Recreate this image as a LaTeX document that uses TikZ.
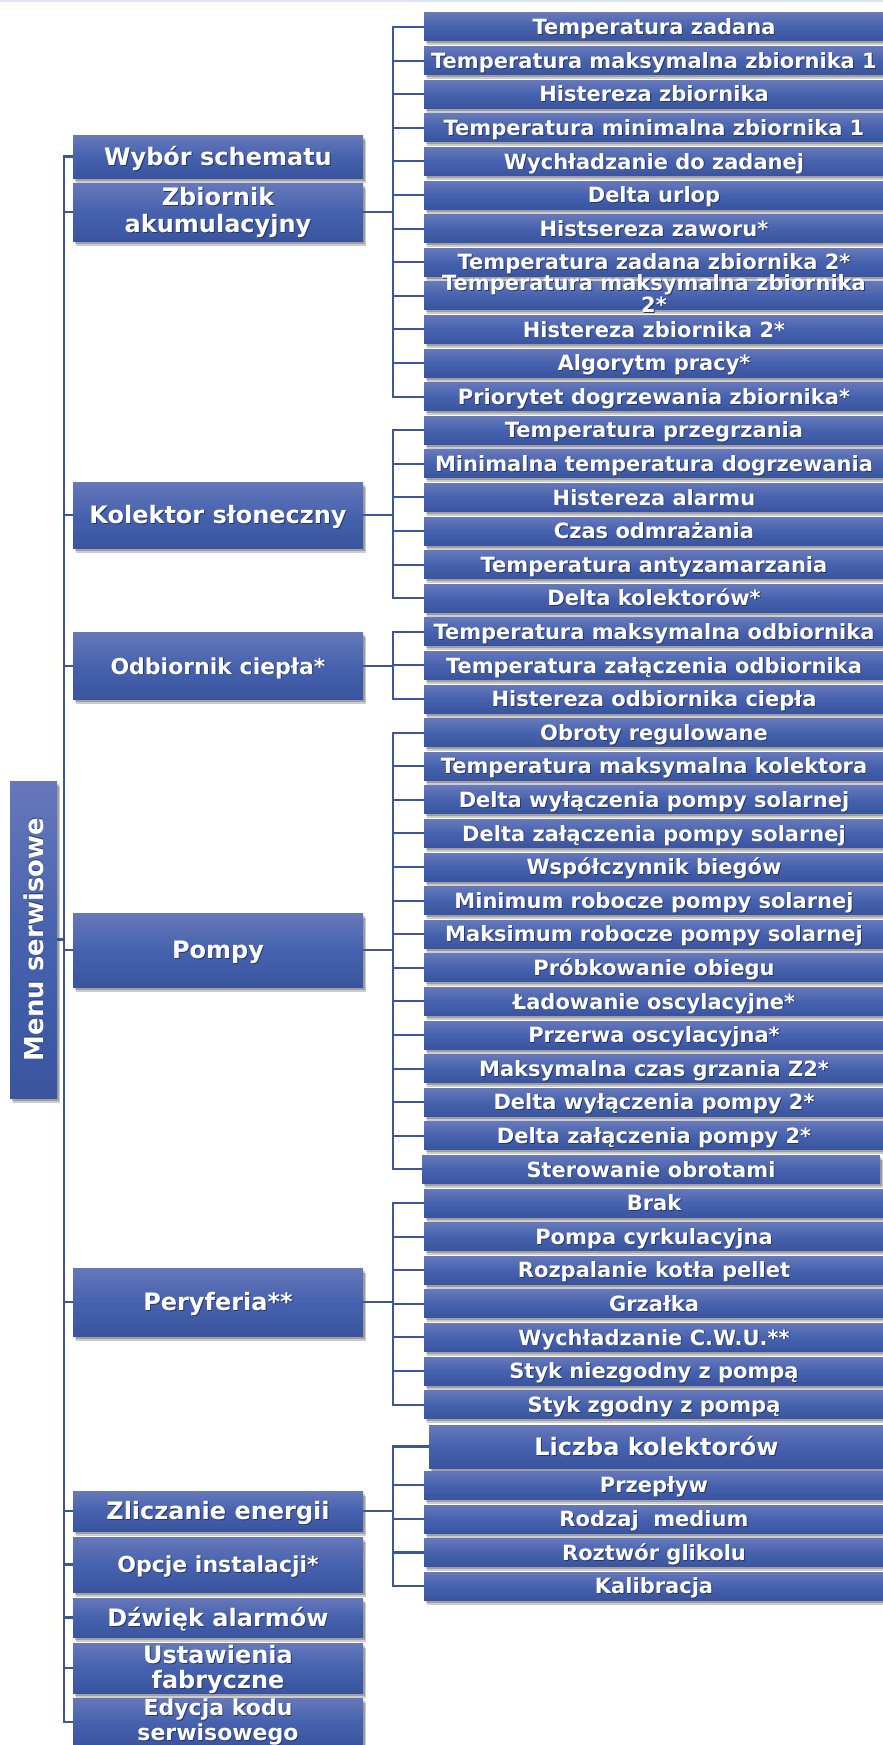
\documentclass[tikz,border=0pt]{standalone}
\usepackage{fontspec}
\setmainfont{DejaVu Sans}
\usetikzlibrary{shadows}
\definecolor{ctop}{HTML}{6678BA}
\definecolor{cmid}{HTML}{4662AE}
\definecolor{cbot}{HTML}{3A549F}
\definecolor{lc}{HTML}{3E5596}
\definecolor{tsh}{HTML}{27356E}
\definecolor{band}{HTML}{DDE4F3}
\newcommand\sh[1]{\rlap{\kern0.9pt\raisebox{-0.9pt}{\textcolor{tsh}{#1}}}#1}
\tikzset{
  bx/.style={rectangle, inner sep=0pt, outer sep=0pt, top color=ctop, bottom color=cbot, middle color=cmid,
    drop shadow={shadow xshift=3pt, shadow yshift=-4.5pt, opacity=0.2, fill=black},
    drop shadow={shadow xshift=1.5pt, shadow yshift=-2.5pt, opacity=0.22, fill=black}},
  kbox/.style={bx, minimum width=460pt, minimum height=28pt},
  lbx/.style={bx, minimum width=290pt},
  tx/.style={text=white, inner sep=0pt},
  k21/.style={tx, font=\fontsize{21}{21}\selectfont\bfseries, text height=15.3pt, text depth=0pt},
  l24/.style={tx, font=\fontsize{24}{27}\selectfont\bfseries, text height=17.5pt, text depth=0pt},
  l22/.style={tx, font=\fontsize{22}{25}\selectfont\bfseries, text height=16pt, text depth=0pt},
  conn/.style={draw=lc, line width=2.1pt},
}
\newcommand\kid[3]{\node[kbox] (#1) at (654,#2) {};\node[k21] (#1t) at (#1.center) {\sh{#3}};}
\newcommand\lft[5]{\node[lbx, minimum height=#3pt] (#1) at (218,#2) {};\node[#4] (#1t) at (#1.center) {\sh{#5}};}
\begin{document}
\begin{tikzpicture}[x=1pt,y=-1pt]
\useasboundingbox (0,0) rectangle (883,1745);
\fill[band] (0,0) rectangle (883,2);
\coordinate (bus) at (393,0);
\coordinate (trunk) at (64,0);
% root
\node[bx, minimum width=47pt, minimum height=317pt] (menu) at (33.5,939.5) {};
\node[tx, rotate=90, font=\fontsize{26}{26}\selectfont\bfseries, text height=19pt, text depth=0pt] (menut) at (menu.center) {\sh{Menu serwisowe}};
% left column
\lft{wyb}{156.5}{43}{l24}{Wybór schematu}
\node[lbx, minimum height=58pt] (zba) at (218,212) {};
\node[tx, align=center, font=\fontsize{24}{27}\selectfont\bfseries, text height=44.5pt, text depth=0pt] (zbat) at (218,210) {\sh{Zbiornik}\\\sh{akumulacyjny}};
\lft{kol}{515}{66}{l24}{Kolektor słoneczny}
\lft{odb}{666}{67}{l22}{Odbiornik ciepła*}
\lft{pom}{950}{74}{l24}{Pompy}
\lft{per}{1302}{68}{l24}{Peryferia**}
\lft{zli}{1511}{40}{l24}{Zliczanie energii}
\lft{opc}{1564.5}{55}{l22}{Opcje instalacji*}
\lft{dzw}{1617.5}{39}{l24}{Dźwięk alarmów}
\node[lbx, minimum height=50pt] (ust) at (218,1668) {};
\node[tx, align=center, font=\fontsize{24}{25}\selectfont\bfseries, text height=42.5pt, text depth=0pt] (ustt) at (218,1667) {\sh{Ustawienia}\\\sh{fabryczne}};
\node[lbx, minimum height=48pt] (edy) at (218,1722) {};
\node[tx, align=center, font=\fontsize{22}{25}\selectfont\bfseries, text height=41pt, text depth=0pt] (edyt) at (218,1720) {\sh{Edycja kodu}\\\sh{serwisowego}};
% group 1
\kid{c0}{27}{Temperatura zadana}
\kid{c1}{60.6}{Temperatura maksymalna zbiornika 1}
\kid{c2}{94.2}{Histereza zbiornika}
\kid{c3}{127.8}{Temperatura minimalna zbiornika 1}
\kid{c4}{161.4}{Wychładzanie do zadanej}
\kid{c5}{195}{Delta urlop}
\kid{c6}{228.6}{Histsereza zaworu*}
\kid{c7}{262.2}{Temperatura zadana zbiornika 2*}
\node[kbox] (c8) at (654,295.8) {};
\node[tx, align=center, font=\fontsize{21}{21}\selectfont\bfseries, text height=36.3pt, text depth=0pt] (c8t) at (654,294.8) {\sh{Temperatura maksymalna zbiornika}\\\sh{2*}};
\kid{c9}{329.4}{Histereza zbiornika 2*}
\kid{c10}{363}{Algorytm pracy*}
\kid{c11}{396.6}{Priorytet dogrzewania zbiornika*}
% group 2
\kid{c12}{430.2}{Temperatura przegrzania}
\kid{c13}{463.8}{Minimalna temperatura dogrzewania}
\kid{c14}{497.4}{Histereza alarmu}
\kid{c15}{531}{Czas odmrażania}
\kid{c16}{564.6}{Temperatura antyzamarzania}
\kid{c17}{598.2}{Delta kolektorów*}
% group 3
\kid{c18}{631.8}{Temperatura maksymalna odbiornika}
\kid{c19}{665.4}{Temperatura załączenia odbiornika}
\kid{c20}{699}{Histereza odbiornika ciepła}
% group 4
\kid{c21}{732.6}{Obroty regulowane}
\kid{c22}{766.2}{Temperatura maksymalna kolektora}
\kid{c23}{799.8}{Delta wyłączenia pompy solarnej}
\kid{c24}{833.4}{Delta załączenia pompy solarnej}
\kid{c25}{867}{Współczynnik biegów}
\kid{c26}{900.6}{Minimum robocze pompy solarnej}
\kid{c27}{934.2}{Maksimum robocze pompy solarnej}
\kid{c28}{967.8}{Próbkowanie obiegu}
\kid{c29}{1001.4}{Ładowanie oscylacyjne*}
\kid{c30}{1035}{Przerwa oscylacyjna*}
\kid{c31}{1068.6}{Maksymalna czas grzania Z2*}
\kid{c32}{1102.2}{Delta wyłączenia pompy 2*}
\kid{c33}{1135.8}{Delta załączenia pompy 2*}
\node[kbox, minimum width=458pt] (c34) at (651,1169.4) {};
\node[k21] (c34t) at (c34.center) {\sh{Sterowanie obrotami}};
% group 5
\kid{c35}{1203}{Brak}
\kid{c36}{1236.6}{Pompa cyrkulacyjna}
\kid{c37}{1270.2}{Rozpalanie kotła pellet}
\kid{c38}{1303.8}{Grzałka}
\kid{c39}{1337.4}{Wychładzanie C.W.U.**}
\kid{c40}{1371}{Styk niezgodny z pompą}
\kid{c41}{1404.6}{Styk zgodny z pompą}
% group 6
\node[kbox, minimum width=455pt, minimum height=43pt] (c42) at (656.5,1446.5) {};
\node[tx, font=\fontsize{24}{24}\selectfont\bfseries, text height=17.5pt, text depth=0pt] (c42t) at (c42.center) {\sh{Liczba kolektorów}};
\kid{c43}{1485}{Przepływ}
\kid{c44}{1519}{Rodzaj\ \ medium}
\kid{c45}{1552.5}{Roztwór glikolu}
\kid{c46}{1586}{Kalibracja}
% trunk
\draw[conn] (menu.east) -- (menu.east -| trunk);
\draw[conn] (wyb.west) -- (wyb.west -| trunk) |- (edy.west);
\foreach \n in {zba,kol,odb,pom,per,zli,opc,dzw,ust}
  \draw[conn] (\n.west) -- (\n.west -| trunk);
% groups
\foreach \p/\a/\b in {zba/0/11, kol/12/17, odb/18/20, pom/21/34, per/35/41, zli/42/46} {
  \draw[conn] (\p.east) -- (\p.east -| bus);
  \draw[conn] (c\a.west) -- (c\a.west -| bus) |- (c\b.west);
  \pgfmathtruncatemacro\s{\a+1}
  \pgfmathtruncatemacro\e{\b-1}
  \foreach \i in {\s,...,\e} \draw[conn] (c\i.west) -- (c\i.west -| bus);
}
\end{tikzpicture}
\end{document}
